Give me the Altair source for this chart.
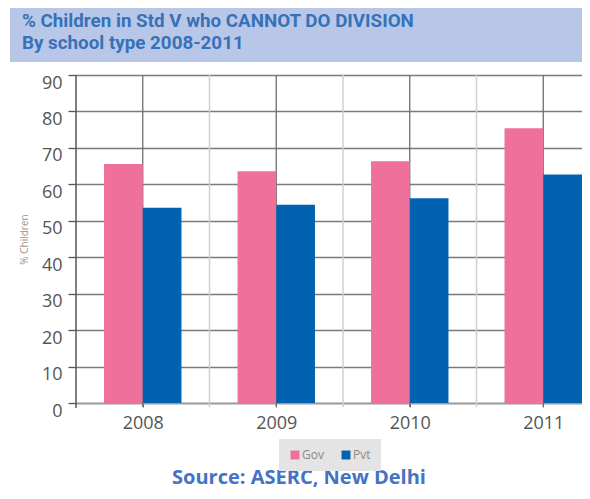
import altair as alt
import pandas as pd

years = ["2008", "2009", "2010", "2011"]
gov = [65.6, 63.6, 66.3, 75.4]
pvt = [53.6, 54.4, 56.2, 62.7]
series = ["Gov", "Pvt"]
colors = ["#ef709b", "#0062b0"]
y_ticks = [0, 10, 20, 30, 40, 50, 60, 70, 80, 90]
title_lines = ["% Children in Std V who CANNOT DO DIVISION", "By school type 2008-2011"]
source_text = "Source: ASERC, New Delhi"

rows = []
for i, y in enumerate(years):
    rows.append({"year": y, "idx": i, "type": "Gov", "value": gov[i]})
    rows.append({"year": y, "idx": i, "type": "Pvt", "value": pvt[i]})
df = pd.DataFrame(rows)

W = 506
xscale = alt.Scale(domain=[0, W / 133.5], nice=False, zero=False)
yscale = alt.Scale(domain=[0, 90], nice=False)
label_expr = "['2008','2009','2010','2011'][floor(datum.value)]"

centres = pd.DataFrame({"pos": [i + 0.5 for i in range(len(years))]})
bounds = pd.DataFrame({"pos": [float(i) for i in range(1, len(years))]})

banner = alt.Chart(pd.DataFrame({"a": [0]})).mark_rect(
    color="#b8c7e7", clip=False
).encode(
    x=alt.value(-66), x2=alt.value(W), y=alt.value(-67), y2=alt.value(-13)
)

light = alt.Chart(bounds).mark_rule(color="#cfcfcf", strokeWidth=1.5).encode(
    x=alt.X("pos:Q", scale=xscale), y=alt.value(0), y2=alt.value(332)
)
dark = alt.Chart(centres).mark_rule(color="#6e6e6e", strokeWidth=1.3).encode(
    x=alt.X("pos:Q", scale=xscale), y=alt.value(0), y2=alt.value(332)
)
left_axis = alt.Chart(pd.DataFrame({"a": [0]})).mark_rule(
    color="#555555", strokeWidth=1.5
).encode(x=alt.value(0), y=alt.value(0), y2=alt.value(333))

bars = alt.Chart(df).transform_calculate(
    x0="datum.type == 'Gov' ? datum.idx + 0.5 - 0.29 : datum.idx + 0.5",
    x1="datum.type == 'Gov' ? datum.idx + 0.5 : datum.idx + 0.79",
).mark_bar().encode(
    x=alt.X(
        "x0:Q",
        scale=xscale,
        axis=alt.Axis(
            values=[0.5, 1.5, 2.5, 3.5],
            labelExpr=label_expr,
            title=None,
            grid=False,
            domainColor="#9a9a9a",
            domainWidth=1.5,
            tickSize=4,
            tickColor="#6e6e6e",
            labelFontSize=18,
            labelColor="#555555",
            labelFont="Open Sans",
            labelPadding=7,
        ),
    ),
    x2="x1:Q",
    y=alt.Y(
        "value:Q",
        scale=yscale,
        axis=alt.Axis(
            values=y_ticks,
            title="% Children",
            titleFontSize=10,
            titleFontWeight="normal",
            titleColor="#a59585",
            titleFont="Open Sans",
            titlePadding=12,
            grid=True,
            gridColor="#7a7a7a",
            gridWidth=1.3,
            domain=False,
            tickSize=8,
            tickColor="#555555",
            tickWidth=1.3,
            labelFontSize=18,
            labelColor="#555555",
            labelFont="Open Sans",
            labelPadding=6,
            labelBaseline="middle",
            labelOffset=8,
        ),
    ),
    y2=alt.datum(0),
    color=alt.Color(
        "type:N",
        scale=alt.Scale(domain=series, range=colors),
        legend=alt.Legend(
            title=None,
            orient="none",
            legendX=203,
            legendY=364,
            direction="horizontal",
            fillColor="#e4e4e4",
            padding=10,
            symbolType="square",
            symbolSize=80,
            symbolStrokeWidth=0,
            labelFontSize=12,
            labelColor="#8a8a8a",
            labelFont="Open Sans",
            columnPadding=16,
            labelOffset=1,
        ),
    ),
)

source = alt.Chart(pd.DataFrame({"a": [0]})).mark_text(
    font="Open Sans",
    fontWeight="bold",
    fontSize=20,
    color="#4472c4",
    align="center",
    baseline="alphabetic",
).encode(x=alt.value(223), y=alt.value(409), text=alt.value(source_text))

chart = alt.layer(banner, light, dark, bars, left_axis, source).properties(
    width=W,
    height=328,
    autosize=alt.AutoSizeParams(type="none"),
    padding={"left": 68, "top": 67, "right": 0, "bottom": 88},
    title=alt.TitleParams(
        text=title_lines,
        anchor="start",
        frame="group",
        dx=-54,
        offset=-45,
        font="Roboto",
        fontSize=18.8,
        fontWeight="bold",
        color="#3671b9",
        lineHeight=22,
    ),
).configure_view(stroke=None)

chart.save("out.html", embed_options={"renderer": "svg", "actions": False})
